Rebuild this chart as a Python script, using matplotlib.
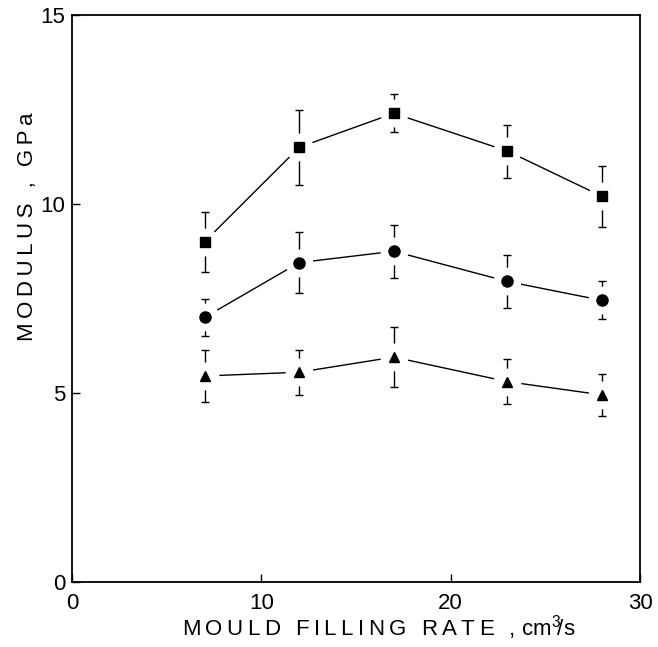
import numpy as np
import matplotlib
matplotlib.use("Agg")
import matplotlib.pyplot as plt

plt.rcParams['font.family'] = ['Liberation Sans', 'DejaVu Sans']
plt.rcParams['mathtext.fontset'] = 'custom'
plt.rcParams['mathtext.rm'] = 'Liberation Sans'

rate = [7, 12, 17, 23, 28]

mod_sq = [9.0, 11.5, 12.4, 11.4, 10.2]
err_sq = [0.8, 1.0, 0.5, 0.7, 0.8]

mod_ci = [7.0, 8.45, 8.75, 7.95, 7.45]
err_ci = [0.5, 0.8, 0.7, 0.7, 0.5]

mod_tr = [5.45, 5.55, 5.95, 5.3, 4.95]
err_tr = [0.7, 0.6, 0.8, 0.6, 0.55]


def spaced(s):
    # letter spacing like the original typesetting
    return '\u2009'.join(s)


fig = plt.figure(figsize=(6.58, 6.47), dpi=100)
ax = fig.add_axes([72/658, 1 - 582/647, 568/658, 567/647])

series = [(mod_sq, err_sq, 's', 7), (mod_ci, err_ci, 'o', 8), (mod_tr, err_tr, '^', 7)]
for y, e, m, ms in series:
    ax.errorbar(rate, y, yerr=e, fmt='none', ecolor='black', elinewidth=1.0,
                capsize=3, capthick=1.0, zorder=1)
    ax.plot(rate, y, color='black', lw=1.0, zorder=1)
    # white halo so lines stop short of the markers
    ax.plot(rate, y, 'o', ms=20, color='white', mec='none', zorder=2)
    ax.plot(rate, y, m, ms=ms, color='black', mec='black', ls='none', zorder=3)

ax.set_xlim(0, 30)
ax.set_ylim(0, 15)
ax.set_xticks([0, 10, 20, 30])
ax.set_yticks([0, 5, 10, 15])
ax.tick_params(direction='in', length=6, width=1, labelsize=16, top=False, right=False)
ax.tick_params(axis='x', pad=8)
ax.tick_params(axis='y', pad=5)
for s in ax.spines.values():
    s.set_linewidth(1.3)

ax.set_xlabel(spaced('MOULD FILLING RATE ,') + ' cm$^{3}\\!$/s', fontsize=16)
ax.xaxis.set_label_coords(0.54, -0.055)
ax.set_ylabel(spaced('MODULUS , GPa'), fontsize=16)
ax.yaxis.set_label_coords(-0.06, 0.626)

fig.savefig('out.png', dpi=100)
